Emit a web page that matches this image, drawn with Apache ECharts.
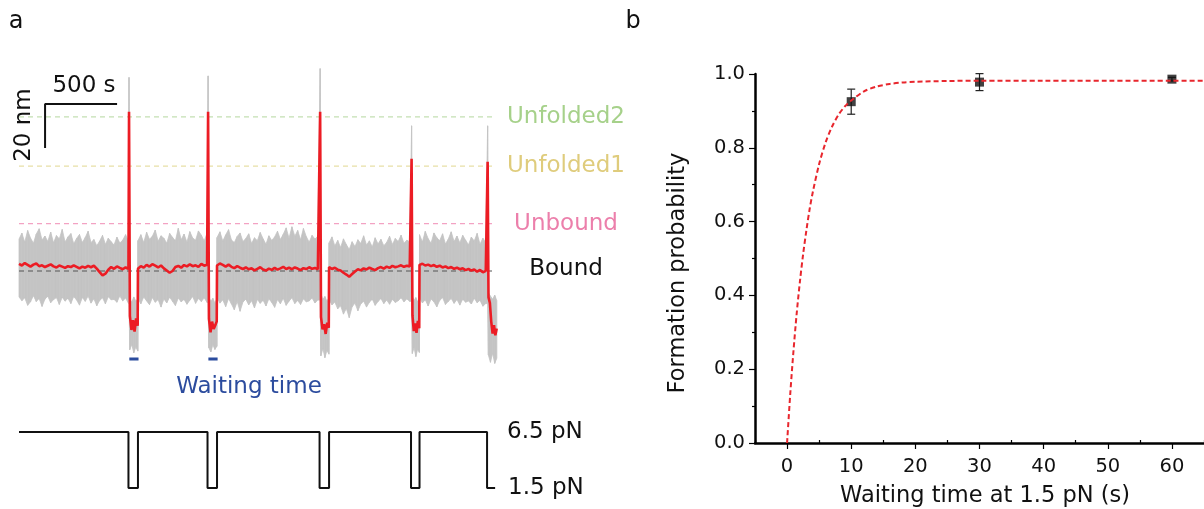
<!DOCTYPE html>
<html><head><meta charset="utf-8">
<script src="https://cdn.jsdelivr.net/npm/echarts@6/dist/echarts.min.js"></script>
<style>html,body{margin:0;padding:0;background:#fff}#c{width:1204px;height:509px}</style>
</head><body><div id="c"></div>
<script>
// ===== Panel a data (time in s, extension in nm relative to Bound) =====
const levelNames = ['Unfolded2', 'Unfolded1', 'Unbound', 'Bound'];
const levelValues = [70.1, 47.7, 21.5, 0];
const levelLabelColors = ['#a6d18a', '#dfcc7c', '#ec7fab', '#111111'];
const levelLineColors = ['#c3dfb2', '#e8dfa6', '#f3a2c3', '#555555'];
const traceEnd = 3319;
const levelEnd = 3300;
const sampleStep = 20;
const segStarts = [0, 826, 1375, 2153, 2781];
const dipStarts = [760, 1309, 2087, 2722, 3250];
const dipEnds = [826, 1375, 2153, 2781, 3319];
const forceEnd = 3306;
const forceHigh = 6.5;
const forceLow = 1.5;
const waitMarkedDips = [0, 1];

const redSeg1 = [3.2, 2.5, 3.6, 2.8, 2.0, 2.9, 3.4, 2.2, 2.6, 1.8, 2.4, 3.0, 2.1, 1.6, 2.5, 2.0, 1.4, 2.2, 1.8, 2.6, 1.9, 1.2, 2.0, 1.5, 2.3, 1.7, 2.4, 1.1, -0.5, -2.0, -1.2, 0.6, 1.8, 1.0, 2.1, 1.4, 0.8, 1.6, 1.0];
const redSeg2 = [1.0, 2.2, 1.5, 2.8, 2.0, 3.1, 2.4, 1.6, 2.5, 1.2, 0.2, -0.8, 0.0, 1.8, 2.3, 1.5, 2.7, 2.1, 3.0, 2.2, 2.6, 1.9, 3.2, 2.4, 2.8];
const redSeg3 = [2.5, 3.4, 2.8, 2.0, 2.9, 1.9, 1.3, 2.2, 1.5, 0.9, 1.6, 0.8, 1.2, 0.3, 1.0, 1.7, 0.7, 0.2, 1.1, 0.5, 1.4, 0.6, 1.2, 1.9, 0.9, 1.5, 0.8, 1.6, 1.1, 0.4, 1.3, 0.9, 1.7, 1.0, 1.4, 0.8];
const redSeg4 = [1.8, 0.9, 1.5, 0.6, 0.2, -0.8, -1.6, -2.6, -1.4, -0.2, 0.8, 0.3, 1.2, 0.7, 1.5, 0.9, 0.4, 1.3, 1.8, 1.1, 2.0, 1.4, 2.3, 1.7, 2.1, 2.6, 1.9, 2.4, 2.0];
const redSeg5 = [2.8, 3.3, 2.5, 2.9, 2.2, 2.7, 1.9, 2.4, 1.6, 2.1, 1.3, 1.8, 1.0, 1.5, 0.8, 1.2, 0.4, 0.9, 0.2, 0.7, -0.3, 0.5, -0.6, 0.1];

const grayHiSeg1 = [14.5, 17.2, 13.1, 18.4, 15.0, 12.6, 16.8, 19.2, 14.1, 15.9, 13.4, 17.7, 12.8, 16.1, 14.6, 18.9, 13.2, 15.5, 17.0, 12.4, 14.8, 16.6, 13.0, 15.2, 18.1, 12.9, 14.3, 11.5, 13.6, 16.2, 12.1, 14.9, 13.3, 11.8, 15.4, 12.7, 14.0, 16.5, 13.5];
const grayLoSeg1 = [-11.8, -13.5, -12.2, -15.6, -14.0, -11.2, -13.9, -12.5, -16.1, -12.8, -11.5, -14.4, -13.0, -12.1, -15.2, -11.9, -13.7, -12.4, -14.8, -11.6, -13.2, -15.5, -12.0, -13.8, -11.4, -14.6, -12.6, -15.8, -13.4, -12.2, -14.9, -11.7, -13.1, -12.9, -14.2, -11.3, -13.6, -12.3, -14.7];
const grayHiSeg2 = [13.8, 16.5, 12.9, 17.6, 14.4, 15.8, 18.6, 13.5, 16.0, 14.9, 12.6, 17.1, 15.3, 13.7, 19.4, 14.2, 16.8, 13.1, 17.9, 15.0, 14.0, 18.2, 16.3, 13.6, 17.4];
const grayLoSeg2 = [-12.4, -14.9, -11.8, -13.6, -15.3, -12.1, -14.2, -13.0, -16.4, -12.7, -14.5, -11.9, -13.8, -15.7, -12.3, -14.0, -12.9, -15.1, -13.3, -11.6, -14.7, -12.5, -13.9, -12.2, -14.3];
const grayHiSeg3 = [15.2, 17.8, 13.6, 16.4, 18.8, 14.1, 12.9, 15.7, 17.3, 13.4, 14.8, 16.9, 12.5, 15.1, 13.8, 17.5, 14.6, 12.2, 16.0, 13.9, 15.5, 18.1, 14.3, 16.7, 19.6, 14.9, 20.1, 15.8, 18.4, 14.2, 19.3, 15.6, 13.1, 16.2, 14.5, 15.9];
const grayLoSeg3 = [-12.0, -14.6, -13.1, -16.2, -12.5, -15.0, -17.6, -13.9, -18.3, -14.1, -12.8, -15.4, -13.5, -16.8, -12.9, -14.7, -13.3, -15.9, -12.6, -14.3, -16.5, -13.0, -14.9, -12.4, -15.6, -13.7, -12.2, -14.8, -13.4, -15.2, -12.7, -14.0, -13.6, -12.3, -14.5, -13.2];
const grayHiSeg4 = [12.8, 15.5, 11.4, 13.9, 10.7, 14.6, 12.0, 9.8, 13.3, 11.1, 14.2, 12.5, 16.0, 11.8, 13.7, 10.9, 15.1, 12.3, 14.4, 11.5, 13.0, 15.8, 12.1, 14.8, 13.4, 16.3, 12.6, 14.0, 13.2];
const grayLoSeg4 = [-13.0, -15.4, -14.1, -17.2, -15.8, -19.6, -17.0, -21.2, -16.3, -14.6, -18.1, -15.0, -13.7, -16.4, -14.2, -12.8, -15.6, -13.9, -12.5, -14.8, -13.2, -15.1, -12.9, -14.3, -13.5, -12.2, -14.0, -12.7, -13.8];
const grayHiSeg5 = [16.5, 13.2, 18.0, 14.7, 12.6, 17.3, 15.1, 13.8, 16.9, 12.3, 14.5, 17.8, 13.4, 15.9, 12.8, 16.2, 14.0, 11.9, 15.4, 13.6, 17.1, 12.2, 14.9, 13.0];
const grayLoSeg5 = [-12.2, -14.5, -13.1, -15.9, -12.7, -14.0, -16.3, -13.4, -12.1, -15.2, -13.8, -12.5, -14.7, -13.0, -15.5, -12.8, -14.2, -13.6, -15.0, -12.4, -14.4, -13.3, -16.0, -14.8];

const redPeaks = [72.4, 72.4, 72.4, 51.0, 49.7];
const grayPeaks = [88.0, 88.7, 92.0, 66.0, 66.0];
const dipRed = [
  [-20.5, -26.8, -22.4, -27.5, -21.6, -24.9],
  [-21.8, -27.9, -23.0, -26.4, -24.8, -22.9],
  [-21.0, -26.5, -24.2, -28.6, -23.5, -25.8],
  [-20.2, -27.3, -23.8, -28.1, -22.7, -26.0],
  [-12.0, -14.5, -23.0, -28.4, -24.6, -29.2, -26.1]
];
const dipGrayHi = [
  [-12.5, -14.2, -11.8, -13.6, -12.9],
  [-11.9, -13.8, -12.4, -14.6, -12.7],
  [-10.4, -12.9, -11.6, -13.8, -12.2],
  [-11.5, -13.4, -12.1, -14.0, -12.6],
  [-9.8, -11.4, -12.8, -11.0, -13.5]
];
const dipGrayLo = [
  [-35.8, -33.4, -37.2, -34.6, -36.4],
  [-34.9, -36.8, -33.5, -35.7, -34.2],
  [-38.6, -35.2, -39.4, -36.1, -37.8],
  [-37.5, -34.8, -38.9, -35.6, -37.0],
  [-38.2, -41.5, -37.4, -42.0, -39.6]
];
const scaleBarTime = 500;   // s
const scaleBarExt = 20;     // nm

// ===== Panel b data =====
const waitTimes = [10, 30, 60];
const formProb = [0.925, 0.978, 0.986];
const formErr = [0.034, 0.023, 0.005];
const fitT = [0, 0.5, 1, 1.5, 2, 2.5, 3, 3.5, 4, 5, 6, 7, 8, 9, 10, 12, 14, 16, 18, 20, 25, 30, 40, 50, 60, 65];
const fitP = [0, 0.134, 0.250, 0.351, 0.437, 0.511, 0.575, 0.632, 0.679, 0.756, 0.814, 0.857, 0.889, 0.912, 0.928, 0.953, 0.966, 0.973, 0.977, 0.979, 0.981, 0.982, 0.982, 0.982, 0.982, 0.982];
const xMajorTicks = [0, 10, 20, 30, 40, 50, 60];

// ===== build trace series =====
const redSegs = [redSeg1, redSeg2, redSeg3, redSeg4, redSeg5];
const grayHiSegs = [grayHiSeg1, grayHiSeg2, grayHiSeg3, grayHiSeg4, grayHiSeg5];
const grayLoSegs = [grayLoSeg1, grayLoSeg2, grayLoSeg3, grayLoSeg4, grayLoSeg5];
const redData = [], grayPts = [];
for (let s = 0; s < 5; s++) {
  const r = redSegs[s], gh = grayHiSegs[s], gl = grayLoSegs[s];
  for (let i = 0; i < r.length; i++) {
    const t = segStarts[s] + i * sampleStep;
    redData.push([t, r[i]]);
    grayPts.push([t, gl[i], gh[i]]);
  }
  const d0 = dipStarts[s], d1 = dipEnds[s], tp = d0 + 4;
  redData.push([tp, redPeaks[s]]);
  grayPts.push([tp, gl[gl.length - 1], grayPeaks[s]]);
  const dr = dipRed[s];
  for (let k = 0; k < dr.length; k++) redData.push([d0 + 10 + k * (d1 - 2 - d0 - 10) / (dr.length - 1), dr[k]]);
  const dh = dipGrayHi[s], dl = dipGrayLo[s];
  for (let k = 0; k < dh.length; k++) grayPts.push([d0 + 9 + k * (d1 - 1 - d0 - 9) / (dh.length - 1), dl[k], dh[k]]);
}
// quads between consecutive gray samples: [t0, lo0, hi0, t1, lo1, hi1]
const grayQuads = [];
for (let i = 0; i + 1 < grayPts.length; i++) grayQuads.push(grayPts[i].concat(grayPts[i + 1]));

const forceData = [[0, forceHigh]];
for (let s = 0; s < 5; s++) {
  forceData.push([dipStarts[s], forceHigh], [dipStarts[s], forceLow]);
  if (s < 4) forceData.push([dipEnds[s], forceLow], [dipEnds[s], forceHigh]);
  else forceData.push([forceEnd, forceLow]);
}
const barT0 = 181, barTop = 75.9;
const scaleBarData = [[barT0, barTop - scaleBarExt], [barT0, barTop], [barT0 + scaleBarTime, barTop]];

const FONT = 'DejaVu Sans';
const levelSeries = levelValues.map((v, i) => ({
  type: 'line', xAxisIndex: 0, yAxisIndex: 0, data: [[0, v], [levelEnd, v]],
  symbol: 'none', silent: true, z: i === 3 ? 3 : 2,
  lineStyle: { color: levelLineColors[i], width: 1.2, type: [5, 4] }
}));
const waitSeries = waitMarkedDips.map(d => ({
  type: 'line', xAxisIndex: 0, yAxisIndex: 0, symbol: 'none', silent: true,
  data: [[dipStarts[d] + 6, -40], [dipEnds[d] + 4, -40]],
  lineStyle: { color: '#2b4c9e', width: 3 }
}));

const txt = (text, x, y, size, color, extra) => Object.assign({
  type: 'text', x: x, y: y, z: 100,
  style: { text: text, font: size + 'px "' + FONT + '"', fill: color || '#111', align: 'center', verticalAlign: 'middle' }
}, extra || {});
const pxY = v => 62 + (95 - v) * 2.2;

const graphics = [
  txt('a', 16, 22, 24),
  txt('b', 633, 22, 24),
  txt('500 s', 84, 86, 23),
  txt('20 nm', 24, 125, 23, '#111', { rotation: Math.PI / 2 }),
  txt('Waiting time', 249, 387, 23, '#2c4c9e'),
  txt('Formation probability', 678, 273, 22.5, '#111', { rotation: Math.PI / 2 }),
  txt('Waiting time at 1.5 pN (s)', 985, 496, 22.5)
];
levelNames.forEach((n, i) => graphics.push(txt(n, 566, i === 3 ? pxY(levelValues[i]) - 2 : pxY(levelValues[i]), 23, levelLabelColors[i])));
const g65 = txt(forceHigh + ' pN', 507, 432, 23); g65.style.align = 'left'; graphics.push(g65);
const g15 = txt(forceLow + ' pN', 508, 488, 23); g15.style.align = 'left'; graphics.push(g15);

const hiddenAxis = (grid, min, max) => ({ type: 'value', gridIndex: grid, min: min, max: max, show: false });

const option = {
  animation: false,
  backgroundColor: '#fff',
  grid: [
    { left: 19, top: 62, width: 478, height: 308 },
    { left: 19, top: 432, width: 478, height: 56 },
    { left: 755, top: 74, width: 457, height: 369 }
  ],
  xAxis: [
    hiddenAxis(0, 0, traceEnd),
    hiddenAxis(1, 0, traceEnd),
    { type: 'value', gridIndex: 2, min: -5, max: 65,
      axisLine: { show: true, onZero: false, lineStyle: { color: '#000', width: 2.5 } },
      axisTick: { show: true, customValues: xMajorTicks, length: 6, lineStyle: { color: '#000', width: 1.2 } },
      axisLabel: { show: true, customValues: xMajorTicks, margin: 14, fontFamily: FONT, fontSize: 19.5, color: '#111' },
      splitLine: { show: false } },
    { type: 'value', gridIndex: 2, min: -5, max: 65, interval: 10,
      axisLine: { show: false }, axisLabel: { show: false }, splitLine: { show: false },
      axisTick: { show: true, length: 3, lineStyle: { color: '#000', width: 1.2 } } }
  ],
  yAxis: [
    hiddenAxis(0, -45, 95),
    hiddenAxis(1, forceLow, forceHigh),
    { type: 'value', gridIndex: 2, min: 0, max: 1, interval: 0.2,
      axisLine: { show: true, onZero: false, lineStyle: { color: '#000', width: 2.5 } },
      axisTick: { show: true, length: 6, lineStyle: { color: '#000', width: 1.2 } },
      minorTick: { show: true, splitNumber: 2, length: 3, lineStyle: { color: '#000', width: 1.2 } },
      axisLabel: { margin: 10, fontFamily: FONT, fontSize: 19.5, color: '#111', formatter: v => v.toFixed(1) },
      splitLine: { show: false } }
  ],
  graphic: graphics,
  series: [
    { type: 'custom', xAxisIndex: 0, yAxisIndex: 0, z: 1, silent: true, data: grayQuads,
      encode: { x: [0, 3], y: [1, 2, 4, 5] },
      renderItem: (params, api) => {
        const a = api.coord([api.value(0), api.value(2)]);
        const b = api.coord([api.value(3), api.value(5)]);
        const c = api.coord([api.value(3), api.value(4)]);
        const d = api.coord([api.value(0), api.value(1)]);
        return { type: 'polygon', shape: { points: [a, b, c, d] },
          style: { fill: '#c4c4c4', stroke: '#c4c4c4', lineWidth: 0.8 } };
      } },
    ...levelSeries,
    { type: 'line', xAxisIndex: 0, yAxisIndex: 0, data: redData, symbol: 'none', silent: true,
      lineStyle: { color: '#ec1c24', width: 2.6 }, z: 4 },
    { type: 'line', xAxisIndex: 0, yAxisIndex: 0, data: scaleBarData, symbol: 'none', silent: true,
      lineStyle: { color: '#111', width: 2 }, z: 4 },
    ...waitSeries,
    { type: 'line', xAxisIndex: 1, yAxisIndex: 1, data: forceData, symbol: 'none', silent: true, clip: false,
      lineStyle: { color: '#111', width: 2 } },
    { type: 'custom', xAxisIndex: 2, yAxisIndex: 2, z: 3, silent: true,
      data: waitTimes.map((t, i) => [t, formProb[i] - formErr[i], formProb[i] + formErr[i]]),
      encode: { x: 0, y: [1, 2] },
      renderItem: (params, api) => {
        const x = api.value(0);
        const a = api.coord([x, api.value(2)]), b = api.coord([x, api.value(1)]);
        const w = 4, st = { stroke: '#222', lineWidth: 1.2 };
        return { type: 'group', children: [
          { type: 'line', shape: { x1: a[0], y1: a[1], x2: b[0], y2: b[1] }, style: st },
          { type: 'line', shape: { x1: a[0] - w, y1: a[1], x2: a[0] + w, y2: a[1] }, style: st },
          { type: 'line', shape: { x1: b[0] - w, y1: b[1], x2: b[0] + w, y2: b[1] }, style: st }
        ] };
      } },
    { type: 'scatter', xAxisIndex: 2, yAxisIndex: 2, z: 4, silent: true,
      data: waitTimes.map((t, i) => [t, formProb[i]]), symbol: 'rect', symbolSize: 9,
      itemStyle: { color: '#111' } },
    { type: 'line', xAxisIndex: 2, yAxisIndex: 2, z: 5, silent: true,
      data: fitT.map((t, i) => [t, fitP[i]]), symbol: 'none', smooth: 0.3,
      lineStyle: { color: '#e8262d', width: 2, type: [5, 3] } }
  ]
};
const chart = echarts.init(document.getElementById('c'));
chart.setOption(option);
</script>
</body></html>
